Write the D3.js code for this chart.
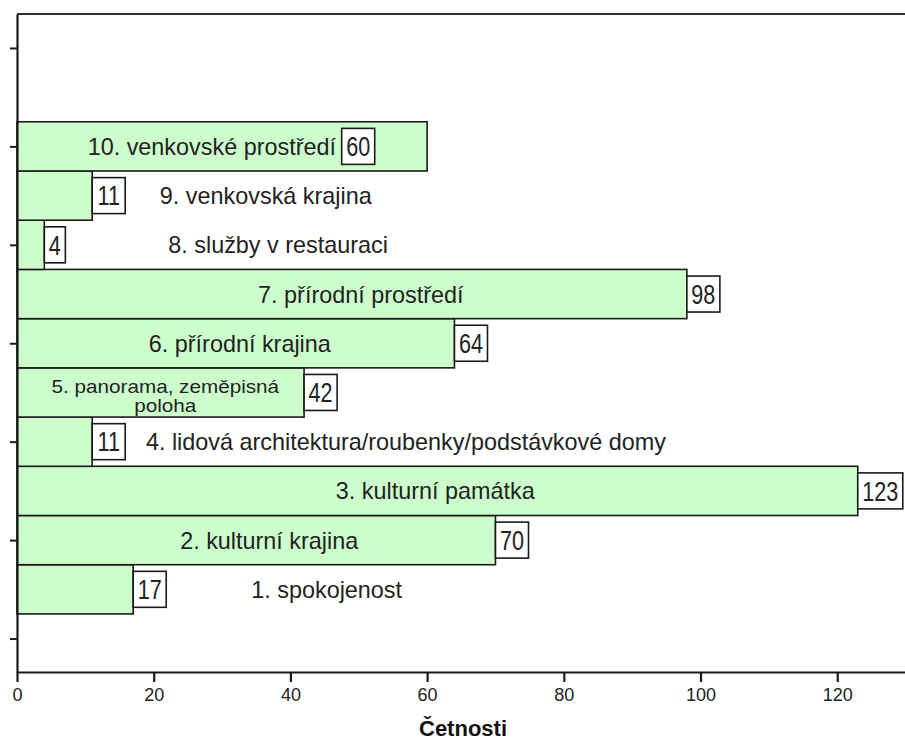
<!DOCTYPE html>
<html><head><meta charset="utf-8">
<script src="https://cdn.jsdelivr.net/npm/d3@7"></script>
<style>
html,body{margin:0;padding:0;background:#fff;}
svg{display:block;font-family:"Liberation Sans",Arial,sans-serif;}
</style></head>
<body>
<svg id="chart" width="905" height="742"></svg>
<script>
// ---- data (bottom to top) ----
const categories = [
  "1. spokojenost",
  "2. kulturní krajina",
  "3. kulturní památka",
  "4. lidová architektura/roubenky/podstávkové domy",
  "5. panorama, zeměpisná poloha",
  "6. přírodní krajina",
  "7. přírodní prostředí",
  "8. služby v restauraci",
  "9. venkovská krajina",
  "10. venkovské prostředí"
];
const values = [17, 70, 123, 11, 42, 64, 98, 4, 11, 60];
const xTicks = [0, 20, 40, 60, 80, 100, 120];
const xTitle = "Četnosti";

// ---- layout (label anchors in value units, as placed in the original) ----
const labelCenter = [45.3, 36.9, 61.2, 56.9, 21.7, 32.6, 50.3, 38.2, 36.4, 28.5];
const boxStart = [null, null, null, null, null, null, null, null, null, 47.5];
const labelLines = {4: ["5. panorama, zeměpisná", "poloha"]};

(function () {
const svg = d3.select("#chart");
const pLeft = 17, pRight = 905.6, pTop = 14, pBottom = 672;

const x = d3.scaleLinear().domain([0, 130]).range([pLeft, pRight]);
// slot scale: bar i (0-based index) centered at slot i+1
const slot = d3.scaleLinear().domain([-0.68, 12.69]).range([pBottom, pTop]);
const band = slot(0) - slot(1);

const g = svg.append("g");
categories.forEach((c, i) => {
  const cy = slot(i + 1);
  g.append("rect")
    .attr("x", x(0)).attr("y", cy - band / 2)
    .attr("width", x(values[i]) - x(0)).attr("height", band)
    .attr("fill", "#ccffcc").attr("stroke", "#1a1a1a").attr("stroke-width", 1.6);
});

categories.forEach((c, i) => {
  const cy = slot(i + 1);
  const cx = x(labelCenter[i]);
  if (labelLines[i]) {
    const t = g.append("text")
      .attr("text-anchor", "middle").attr("fill", "#222")
      .attr("font-size", 18)
      .attr("transform", `translate(${cx},${cy + 1}) scale(1.15,1)`);
    labelLines[i].forEach((ln, k) => {
      t.append("tspan").attr("x", 0).attr("y", k * 19).text(ln);
    });
  } else {
    g.append("text")
      .attr("text-anchor", "middle").attr("fill", "#222")
      .attr("font-size", 23.4)
      .attr("x", cx).attr("y", cy + 8.5)
      .text(c);
  }
});

values.forEach((v, i) => {
  const cy = slot(i + 1);
  const str = String(v);
  const sx = 0.8, fs = 27;
  const tw = str.length * fs * 0.556 * sx;
  const w = tw + 9, h = 36;
  const bx = x(boxStart[i] == null ? v : boxStart[i]);
  const bg = g.append("g").attr("transform", `translate(${bx},${cy - h / 2})`);
  bg.append("rect").attr("x", 0).attr("y", 0).attr("width", w).attr("height", h)
    .attr("fill", "#fff").attr("stroke", "#1a1a1a").attr("stroke-width", 1.6);
  bg.append("text")
    .attr("transform", `translate(${w / 2},${h / 2 + 9.7}) scale(${sx},1)`)
    .attr("text-anchor", "middle").attr("font-size", fs).attr("fill", "#222")
    .text(str);
});

svg.append("line").attr("x1", pLeft).attr("x2", 905).attr("y1", pTop).attr("y2", pTop)
  .attr("stroke", "#333").attr("stroke-width", 2.2);

const xAxis = svg.append("g").attr("transform", `translate(0,${pBottom})`)
  .call(d3.axisBottom(x).tickValues(xTicks).tickSize(10).tickSizeOuter(0).tickPadding(6));
xAxis.select(".domain").attr("stroke", "#1a1a1a").attr("stroke-width", 2.2);
xAxis.selectAll(".tick line").attr("stroke", "#1a1a1a").attr("stroke-width", 2.2);
xAxis.selectAll(".tick text").attr("font-size", 18).attr("fill", "#222")
  .attr("font-family", "Liberation Sans, Arial, sans-serif");

const yAxis = svg.append("g").attr("transform", `translate(${pLeft},0)`)
  .call(d3.axisLeft(slot).tickValues([0, 2, 4, 6, 8, 10, 12]).tickSize(7).tickSizeOuter(0).tickFormat(""));
yAxis.select(".domain").attr("stroke", "#1a1a1a").attr("stroke-width", 2.2);
yAxis.selectAll(".tick line").attr("stroke", "#1a1a1a").attr("stroke-width", 2);

svg.append("text").attr("x", (pLeft + 905) / 2 + 2).attr("y", 736)
  .attr("text-anchor", "middle").attr("font-weight", "bold").attr("font-size", 22)
  .attr("fill", "#111").text(xTitle);
})();
</script>
</body></html>
